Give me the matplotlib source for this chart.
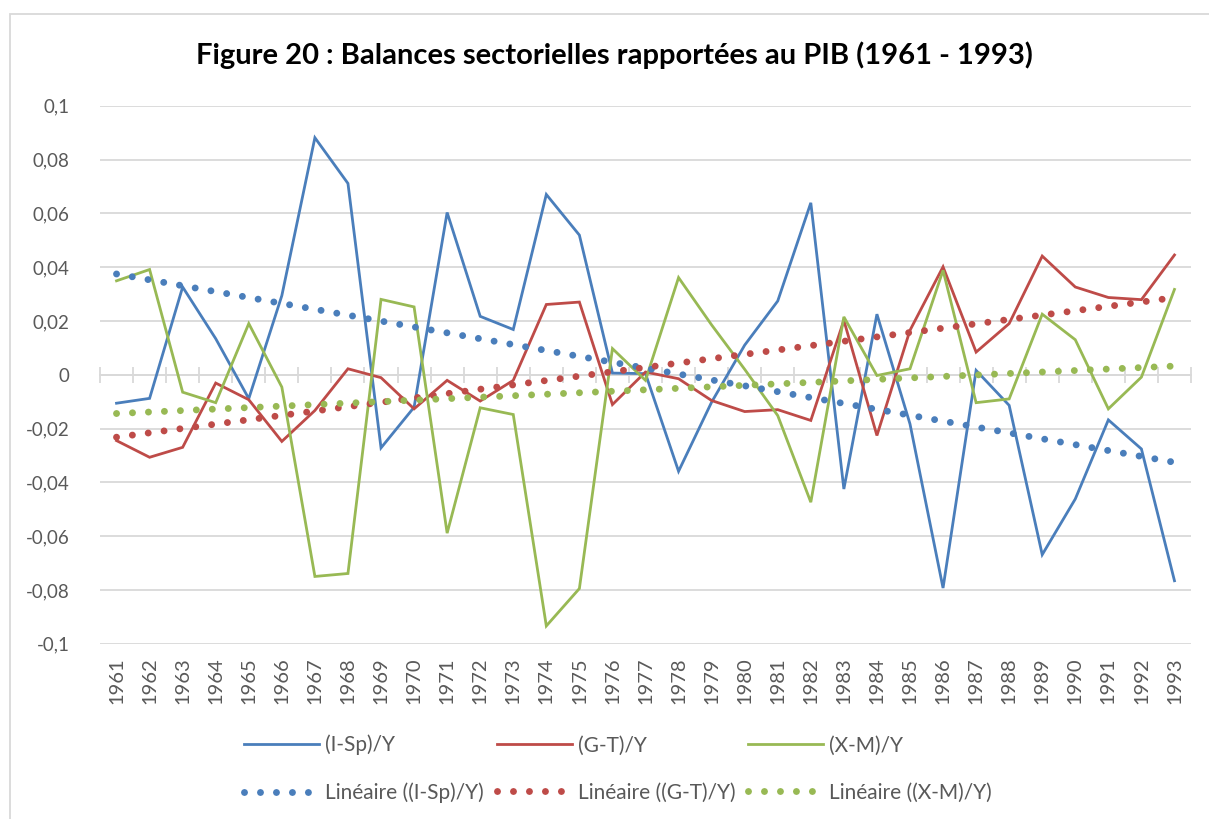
import numpy as np
import matplotlib
matplotlib.use("Agg")
import matplotlib.pyplot as plt
from matplotlib.patches import Rectangle

years = [str(y) for y in range(1961, 1994)]
isp_y = [-0.0106, -0.0088, 0.0326, 0.0134, -0.0089, 0.0294, 0.0881, 0.0711, -0.0272, -0.0121,
         0.0603, 0.0217, 0.0168, 0.0670, 0.0519, 0.0006, 0.0004, -0.0359, -0.0102, 0.0110,
         0.0274, 0.0639, -0.0425, 0.0225, -0.0183, -0.0793, 0.0016, -0.0114, -0.0669, -0.0462,
         -0.0168, -0.0276, -0.0766]
gt_y = [-0.0245, -0.0307, -0.0270, -0.0031, -0.0093, -0.0248, -0.0133, 0.0022, -0.0011, -0.0127,
        -0.0021, -0.0098, -0.0021, 0.0261, 0.0270, -0.0111, 0.0010, -0.0015, -0.0096, -0.0137,
        -0.0130, -0.0170, 0.0202, -0.0226, 0.0165, 0.0401, 0.0084, 0.0190, 0.0441, 0.0326,
        0.0287, 0.0279, 0.0445]
xm_y = [0.0349, 0.0391, -0.0065, -0.0104, 0.0190, -0.0046, -0.0750, -0.0739, 0.0280, 0.0252,
        -0.0589, -0.0123, -0.0148, -0.0934, -0.0795, 0.0097, -0.0021, 0.0361, 0.0185, 0.0020,
        -0.0152, -0.0474, 0.0215, -0.0003, 0.0022, 0.0388, -0.0104, -0.0090, 0.0225, 0.0130,
        -0.0127, -0.0009, 0.0317]
series_names = ["(I-Sp)/Y", "(G-T)/Y", "(X-M)/Y"]
trend_names = ["Linéaire ((I-Sp)/Y)", "Linéaire ((G-T)/Y)", "Linéaire ((X-M)/Y)"]
yticks = [-0.1, -0.08, -0.06, -0.04, -0.02, 0, 0.02, 0.04, 0.06, 0.08, 0.1]
ytick_labels = ["-0,1", "-0,08", "-0,06", "-0,04", "-0,02", "0", "0,02", "0,04", "0,06", "0,08", "0,1"]
title = "Figure 20 : Balances sectorielles rapportées au PIB (1961 - 1993)"

colors = ["#4A7EBB", "#BE4B48", "#98B954"]
grid_c = "#D9D9D9"
txt_c = "#595959"
FONT = "Lato"

fig = plt.figure(figsize=(12.09, 8.19), dpi=100)
fig.patch.set_facecolor("white")
fig.patches.append(Rectangle((10 / 1209, -0.05), 1.2, 1 - 14 / 819 + 0.05, transform=fig.transFigure,
                             fill=False, edgecolor=grid_c, linewidth=1.3, zorder=0))

ax = fig.add_axes([100 / 1209, 1 - 643.7 / 819, (1191 - 100) / 1209, (643.7 - 105.7) / 819])
x = np.arange(len(years))

handles_line = []
handles_trend = []
for data, c, name, tname in zip([isp_y, gt_y, xm_y], colors, series_names, trend_names):
    ln, = ax.plot(x, data, color=c, lw=2.0, label=name, zorder=3, solid_joinstyle="miter")
    coef = np.polyfit(x + 1, np.array(data), 1)
    tr = np.polyval(coef, x + 1)
    tl, = ax.plot(x, tr, color=c, lw=5.0, linestyle=(0, (0.001, 2.3)), dash_capstyle="round",
                  label=tname, zorder=4)
    handles_line.append(ln)
    handles_trend.append(tl)

ax.set_xlim(-0.5, len(years) - 0.5)
ax.set_ylim(-0.1, 0.1)
ax.set_yticks(yticks)
ax.set_yticklabels(ytick_labels, fontfamily=FONT, fontsize=13.5, color=txt_c)
ax.tick_params(axis="y", length=0, pad=22)
ax.yaxis.grid(True, color=grid_c, lw=1.3)
ax.set_axisbelow(True)
for s in ["top", "right", "left"]:
    ax.spines[s].set_visible(False)
ax.spines["bottom"].set_position(("data", 0))
ax.spines["bottom"].set_color(grid_c)
ax.spines["bottom"].set_linewidth(1.3)
ax.set_xticks(x)
ax.set_xticks(np.arange(-0.5, len(years), 1.0), minor=True)
ax.tick_params(axis="x", which="major", length=0, labelbottom=False)
ax.tick_params(axis="x", which="minor", direction="inout", length=12, width=1.3, color=grid_c)

sec = ax.secondary_xaxis(0.0)
sec.set_xticks(x)
sec.set_xticklabels(years, rotation=90, fontfamily=FONT, fontsize=14.5, color=txt_c)
sec.tick_params(length=0, pad=10)
sec.spines["bottom"].set_visible(False)

fig.text(614 / 1209, 1 - 55 / 819, title, ha="center", va="center", fontfamily=FONT,
         fontweight="bold", fontsize=21, color="black")

handles = []
labels = []
for ln, tl, n, t in zip(handles_line, handles_trend, series_names, trend_names):
    handles += [ln, tl]
    labels += [n, t]
leg = fig.legend(handles, labels, ncol=3, loc="center", bbox_to_anchor=(618 / 1209, 1 - 769 / 819),
                 frameon=False, handlelength=3.6, handletextpad=0.3, columnspacing=0.6,
                 labelspacing=1.3, prop={"family": FONT, "size": 15})
for t in leg.get_texts():
    t.set_color(txt_c)

fig.savefig("out.png", dpi=100, facecolor="white")
